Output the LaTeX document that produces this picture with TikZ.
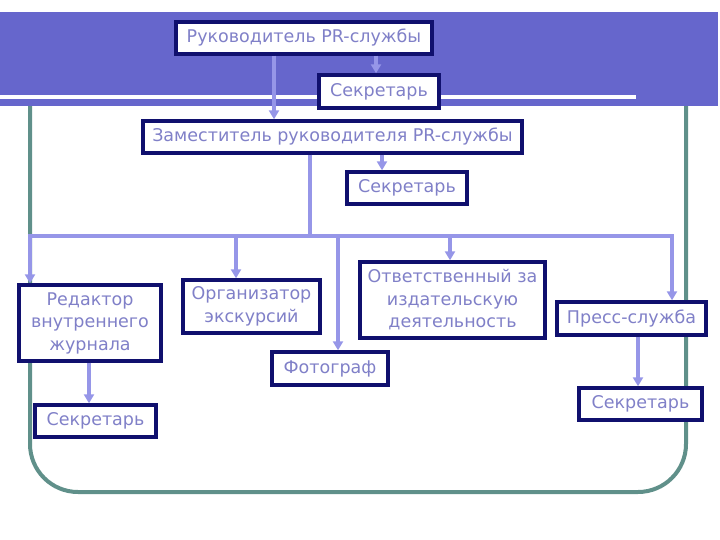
\documentclass[tikz,border=0pt]{standalone}
\usepackage{fontspec}
\setmainfont{DejaVu Sans}
\usetikzlibrary{arrows.meta}
\definecolor{band}{RGB}{102,102,204}
\definecolor{frameteal}{RGB}{96,144,138}
\definecolor{boxline}{RGB}{16,16,110}
\definecolor{txt}{RGB}{128,128,200}
\definecolor{conn}{RGB}{150,150,232}
\tikzset{
  box/.style={draw=boxline, line width=3.4pt, fill=white, text=txt, inner sep=2pt,
    font=\fontsize{17.5}{22.5}\selectfont, align=center},
  link/.style={draw=conn, line width=3.6pt},
  arr/.style={link, -{Triangle[length=9pt,width=10pt]}}
}
\begin{document}
\begin{tikzpicture}[x=1pt,y=-1pt]
\useasboundingbox (0,0) rectangle (720,540);
% frame
\draw[frameteal, line width=4pt, rounded corners=48] (30,90) -- (30,492) -- (686,492) -- (686,90);
% band
\fill[band] (0,12) rectangle (718,106);
\fill[white] (0,95) rectangle (636,99);
% boxes
\node[box, minimum width=256pt, minimum height=32pt] (b1) at (304,38) {Руководитель PR-службы};
\node[box, minimum width=120pt, minimum height=33pt] (b2) at (379,91.5) {Секретарь};
\node[box, minimum width=379pt, minimum height=32pt] (b3) at (332.5,137) {Заместитель руководителя PR-службы};
\node[box, minimum width=120pt, minimum height=32pt] (b4) at (407,188) {Секретарь};
\node[box, minimum width=142pt, minimum height=76pt] (b5) at (90,323) {Редактор\\внутреннего\\журнала};
\node[box, minimum width=137pt, minimum height=53pt] (b6) at (251.5,306.5) {Организатор\\экскурсий};
\node[box, minimum width=185pt, minimum height=76pt] (b7) at (452.5,300) {Ответственный за\\издательскую\\деятельность};
\node[box, minimum width=116pt, minimum height=33pt] (b8) at (330,368.5) {Фотограф};
\node[box, minimum width=149pt, minimum height=33pt] (b9) at (631.5,318.5) {Пресс-служба};
\node[box, minimum width=123pt, minimum height=32pt] (b10) at (640.5,404) {Секретарь};
\node[box, minimum width=121pt, minimum height=32pt] (b11) at (95.5,421) {Секретарь};
% bus coordinates
\coordinate (j) at (310,236);
\coordinate (busL) at (30,236);
\coordinate (busR) at (672,236);
% connectors
\draw[arr] (b1.south -| 274,0) -- (b3.north -| 274,0);
\draw[arr] (b1.south -| 376,0) -- (b2.north -| 376,0);
\draw[arr] (b3.south -| 382,0) -- (b4.north -| 382,0);
\draw[link] (b3.south -| 310,0) -- (j);
\draw[link] ([xshift=-1.8pt]busL) -- ([xshift=1.8pt]busR);
\draw[arr] (busL) -- (b5.north -| busL);
\draw[arr] (236,236) -- (b6.north -| 236,0);
\draw[arr] (338,236) -- (b8.north -| 338,0);
\draw[arr] (450,236) -- (b7.north -| 450,0);
\draw[arr] (busR) -- (b9.north -| busR);
\draw[arr] (b5.south -| 89,0) -- (b11.north -| 89,0);
\draw[arr] (b9.south -| 638,0) -- (b10.north -| 638,0);
\end{tikzpicture}
\end{document}
